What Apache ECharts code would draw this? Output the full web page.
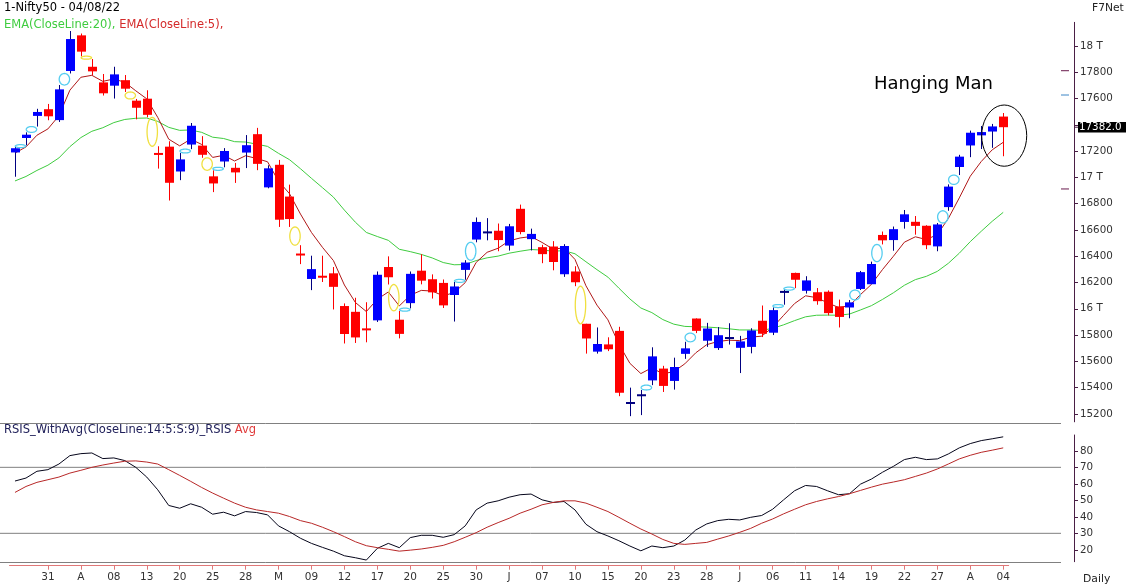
<!DOCTYPE html>
<html><head><meta charset="utf-8">
<script src="https://cdn.jsdelivr.net/npm/echarts@6/dist/echarts.min.js"></script>
<style>html,body{margin:0;padding:0;background:#fff;}#c{width:1126px;height:587px;}</style>
</head><body><div id="c"></div>
<script>
// ---------- data ----------
const dates = [
'2022-03-28','2022-03-29','2022-03-30','2022-03-31',
'2022-04-01','2022-04-04','2022-04-05','2022-04-06','2022-04-07','2022-04-08','2022-04-11','2022-04-12','2022-04-13','2022-04-18','2022-04-19','2022-04-20','2022-04-21','2022-04-22','2022-04-25','2022-04-26','2022-04-27','2022-04-28','2022-04-29',
'2022-05-02','2022-05-04','2022-05-05','2022-05-06','2022-05-09','2022-05-10','2022-05-11','2022-05-12','2022-05-13','2022-05-16','2022-05-17','2022-05-18','2022-05-19','2022-05-20','2022-05-23','2022-05-24','2022-05-25','2022-05-26','2022-05-27','2022-05-30','2022-05-31',
'2022-06-01','2022-06-02','2022-06-03','2022-06-06','2022-06-07','2022-06-08','2022-06-09','2022-06-10','2022-06-13','2022-06-14','2022-06-15','2022-06-16','2022-06-17','2022-06-20','2022-06-21','2022-06-22','2022-06-23','2022-06-24','2022-06-27','2022-06-28','2022-06-29','2022-06-30',
'2022-07-01','2022-07-04','2022-07-05','2022-07-06','2022-07-07','2022-07-08','2022-07-11','2022-07-12','2022-07-13','2022-07-14','2022-07-15','2022-07-18','2022-07-19','2022-07-20','2022-07-21','2022-07-22','2022-07-25','2022-07-26','2022-07-27','2022-07-28','2022-07-29',
'2022-08-01','2022-08-02','2022-08-03','2022-08-04'];

const opens = [17190,17300,17468,17519,17436,17810,18081,17842,17723,17698,17740,17584,17599,17183,17234,17045,17250,17242,17008,17121,17073,17189,17329,
16924,17096,16854,16415,16227,16248,16270,16021,15977,15845,15912,16318,15917,16043,16290,16225,16197,16105,16296,16527,16578,
16594,16481,16761,16530,16469,16474,16263,16284,15886,15674,15729,15832,15272,15334,15455,15545,15451,15657,15926,15757,15701,15775,
15703,15710,15909,15818,16124,16273,16137,16126,16130,16018,16010,16151,16187,16562,16523,16661,16662,16632,16475,16774,17079,
17243,17320,17349,17463];
const closes = [17222,17325,17498,17465,17670,18053,17957,17807,17640,17784,17675,17530,17476,17174,16959,17137,17393,17172,16954,17201,17038,17245,17103,
17069,16678,16683,16411,16302,16240,16167,15808,15782,15842,16259,16240,15809,16266,16214,16125,16026,16170,16352,16661,16585,
16523,16628,16584,16570,16416,16356,16478,16202,15774,15732,15692,15361,15294,15350,15638,15413,15557,15699,15832,15850,15799,15780,
15752,15835,15810,15990,16133,16221,16216,16058,15967,15938,16049,16279,16341,16521,16606,16719,16631,16484,16642,16930,17158,
17340,17345,17388,17382];
const lows = [17005,17244,17387,17435,17422,17791,17921,17779,17623,17600,17650,17442,17457,17067,16824,16979,17215,17149,16888,17077,16958,17071,17055,
16917,16623,16623,16340,16142,16204,15995,15736,15740,15745,15900,16185,15775,16003,16186,16078,16006,15903,16221,16506,16521,
16438,16443,16567,16444,16347,16293,16243,16172,15659,15659,15678,15335,15183,15191,15419,15367,15385,15619,15815,15710,15687,15728,
15511,15661,15785,15800,16031,16157,16116,16031,15950,15858,15928,16143,16187,16490,16442,16610,16564,16454,16438,16746,17018,
17154,17216,17225,17161];
const highs = [17232,17343,17522,17559,17703,18114,18095,17901,17787,17842,17779,17597,17663,17237,17275,17186,17414,17314,17054,17223,17110,17322,17377,
17092,17133,16945,16484,16404,16404,16318,16041,16084,16050,16284,16399,15984,16284,16415,16262,16223,16204,16370,16695,16690,
16649,16646,16793,16610,16487,16515,16492,16324,15886,15858,15783,15863,15400,15382,15707,15566,15628,15749,15927,15893,15861,15890,
15794,15852,16025,16011,16150,16275,16248,16158,16140,16070,16067,16288,16359,16588,16626,16752,16706,16636,16653,16947,17172,
17356,17391,17407,17490];

const ema5 = [17185,17232,17321,17369,17469,17664,17762,17777,17731,17749,17724,17659,17598,17457,17291,17240,17291,17251,17152,17168,17125,17165,17144,
17119,16972,16876,16721,16581,16468,16367,16181,16048,15979,16073,16128,16022,16103,16140,16135,16099,16123,16199,16353,16430,
16461,16517,16539,16550,16505,16455,16463,16376,16175,16028,15916,15731,15585,15507,15551,15505,15522,15581,15665,15727,15751,15761,
15758,15784,15792,15858,15950,16040,16099,16085,16046,16010,16023,16108,16186,16298,16400,16507,16548,16527,16565,16687,16844,
17009,17121,17210,17267];
const ema20 = [16973,17007,17053,17093,17148,17234,17303,17351,17378,17417,17441,17450,17452,17426,17381,17358,17361,17343,17306,17296,17272,17269,17253,
17236,17183,17135,17066,16993,16922,16850,16751,16659,16581,16550,16521,16453,16435,16414,16387,16352,16335,16337,16367,16388,
16401,16423,16438,16451,16447,16439,16442,16419,16358,16298,16241,16157,16075,16006,15971,15918,15883,15866,15863,15861,15856,15848,
15839,15839,15836,15851,15878,15910,15939,15951,15952,15951,15960,15991,16024,16071,16122,16179,16222,16247,16285,16346,16423,
16511,16590,16666,16734];

const rsi = [61.7,63.5,67.6,68.6,72,77.1,78.3,78.7,75.3,75.7,74.1,70,64.1,56.4,46.9,45.2,47.9,45.8,41.6,42.8,40.6,43.2,42.6,
41.2,34.5,31,27,23.9,21.5,19.2,16.4,15.2,13.8,20.9,23.9,21.3,27.4,28.8,28.8,27.6,29.2,34.5,44.2,48.3,
49.7,51.9,53.4,53.8,50.3,48.7,49.3,44.2,35.5,31,28.4,25.5,22.3,19.4,22.3,21.3,22.3,25.9,32,35.7,37.7,38.5,
38.1,39.7,40.8,44.6,50.3,55.8,59,58.4,55.8,53.4,54,59.8,62.9,67,70.6,74.7,76.1,74.7,75.1,78.1,81.8,
84.4,86.2,87.3,88.5];
const rsiAvg = [54.8,58.4,60.9,62.5,64.1,66.5,68.2,70,71.4,72.6,73.7,73.9,73.2,72,68.6,65.1,61.5,57.8,54.4,51.3,48.3,45.8,44.2,
43.2,42.2,40.2,37.7,36.1,33.7,31,28,24.9,22.5,21.3,20.3,19.2,19.8,20.5,21.5,22.7,24.9,27.6,30.4,33.7,
36.5,39.1,42.2,44.6,47.3,48.7,49.7,49.7,48.3,45.8,43.2,39.7,36.1,32.6,29.6,26.3,23.9,23.3,23.9,24.5,26.5,28.4,
30.6,33,36.1,38.7,41.8,44.6,47.3,49.3,50.9,52.3,54,56,58,59.8,61.1,62.5,64.5,66.5,69,72,75.1,
77.3,79.1,80.4,81.8];

const priceTicks = [15200,15400,15600,15800,16000,16200,16400,16600,16800,17000,17200,17400,17600,17800,18000];
const rsiTicks = [20,30,40,50,60,70,80];
const rsiLevels = [70,30];
const sideMarks = [17812,17627,16912];
const sideMarkColors = ['#6a1b4d','#3d86c6','#6a1b4d'];
const lastPrice = 17382.0;
const monthLetter = ['J','F','M','A','M','J','J','A','S','O','N','D'];

// ---------- chart ----------
const FONT = '"DejaVu Sans", Verdana, sans-serif';
const chart = echarts.init(document.getElementById('c'), null, {renderer:'canvas'});
const N = dates.length;
const GL = 9.5, GW = 999.2, AXIS_OFF = 65.3;

const candleData = dates.map((d,i)=>[i, opens[i], closes[i], lows[i], highs[i]]);
const gapData = [];
for (let i=1;i<N;i++){
  if (lows[i] > highs[i-1]) gapData.push([i, highs[i-1], lows[i], 1]);
  else if (highs[i] < lows[i-1]) gapData.push([i, lows[i-1], highs[i], -1]);
}
function ellipsePts(cx, cy, rx, ry){
  const p=[]; for(let k=0;k<40;k++){const a=k/40*Math.PI*2; p.push([cx+rx*Math.cos(a), cy+ry*Math.sin(a)]);} return p;
}
const tickShow = (index)=> index>=3 && index%3===0;

chart.setOption({
  animation:false,
  backgroundColor:'#fff',
  grid:[
    {left:GL, top:22.35, width:GW, height:399.45, containLabel:false, outerBoundsMode:'none'},
    {left:GL, top:435, width:GW, height:126.7, containLabel:false, outerBoundsMode:'none'}
  ],
  xAxis:[
    {type:'category', gridIndex:0, data:dates, boundaryGap:true, show:false},
    {type:'category', gridIndex:1, data:dates, boundaryGap:true, offset:4,
     axisLine:{show:true, lineStyle:{color:'#e07878', width:1}},
     axisTick:{show:true, alignWithLabel:true, interval:tickShow, length:4, lineStyle:{color:'#e07878'}},
     axisLabel:{interval:tickShow, margin:6, color:'#333', fontFamily:FONT, fontSize:10.5,
       formatter:(v,index)=>{
         const m=+dates[index].slice(5,7), d=dates[index].slice(8,10);
         const pm = index>=3 ? +dates[index-3].slice(5,7) : m;
         return m!==pm ? monthLetter[m-1] : d;
       }},
     splitLine:{show:false}}
  ],
  yAxis:[
    {type:'value', gridIndex:0, position:'right', offset:AXIS_OFF, min:15140, max:18180, scale:true,
     axisLine:{show:true, lineStyle:{color:'#4a1f45', width:1}},
     axisTick:{show:true, length:4, customValues:priceTicks, lineStyle:{color:'#4a1f45'}},
     axisLabel:{customValues:priceTicks, margin:6, color:'#333', fontFamily:FONT, fontSize:10.3,
       formatter:(v)=> Math.abs(v-lastPrice)<100 ? '' : ((v%1000===0) ? (v/1000)+' T' : String(v))},
     splitLine:{show:false}},
    {type:'value', gridIndex:1, position:'right', offset:AXIS_OFF, min:12.8, max:89.6,
     axisLine:{show:true, lineStyle:{color:'#4a1f45', width:1}},
     axisTick:{show:true, length:4, customValues:rsiTicks, lineStyle:{color:'#4a1f45'}},
     axisLabel:{customValues:rsiTicks, margin:6, color:'#333', fontFamily:FONT, fontSize:10.3},
     splitLine:{show:false}}
  ],
  series:[
    {name:'EMA20', type:'line', xAxisIndex:0, yAxisIndex:0, data:ema20, symbol:'none', z:2,
     lineStyle:{color:'#3fcc3f', width:1}},
    {name:'EMA5', type:'line', xAxisIndex:0, yAxisIndex:0, data:ema5, symbol:'none', z:2,
     lineStyle:{color:'#b01818', width:1}},
    {name:'Candles', type:'custom', xAxisIndex:0, yAxisIndex:0, data:candleData, z:3,
     encode:{x:0, y:[1,2,3,4]},
     renderItem:(params, api)=>{
       const i=api.value(0), o=api.value(1), c=api.value(2), l=api.value(3), h=api.value(4);
       const xr=api.coord([i,o])[0];
       const x=Math.round(xr)+0.5;
       const yo=api.coord([i,o])[1], yc=api.coord([i,c])[1], yl=api.coord([i,l])[1], yh=api.coord([i,h])[1];
       const up = c>=o;
       const wick = up ? '#000080' : '#ff0000';
       let body = up ? '#0000ff' : '#ff0000';
       let top=Math.min(yo,yc), bot=Math.max(yo,yc);
       if (bot-top < 3){ const m=(top+bot)/2; top=m-1; bot=m+1; body=wick; }
       const bw=9;
       return {type:'group', children:[
         {type:'line', shape:{x1:x, y1:yh, x2:x, y2:yl}, style:{stroke:wick, lineWidth:1}},
         {type:'rect', shape:{x:x-bw/2, y:top, width:bw, height:bot-top}, style:{fill:body}}
       ]};
     }},
    {name:'Gaps', type:'custom', xAxisIndex:0, yAxisIndex:0, data:gapData, z:4,
     encode:{x:0, y:[1,2]},
     renderItem:(params, api)=>{
       const i=api.value(0), a=api.value(1), b=api.value(2), dir=api.value(3);
       const x1=api.coord([i-1,a])[0], x2=api.coord([i,a])[0];
       const ya=api.coord([i,a])[1], yb=api.coord([i,b])[1];
       const cx=(x1+x2)/2, cy=(ya+yb)/2, ry=Math.max(1.5, Math.abs(yb-ya)/2);
       return {type:'polygon', shape:{points:ellipsePts(cx,cy,5.2,ry)},
               style:{fill:'none', stroke: dir>0 ? '#55cdf0' : '#f0e040', lineWidth:1.3}};
     }},
    {name:'Annot', type:'custom', xAxisIndex:0, yAxisIndex:0, data:[[N-1, lastPrice]], z:5,
     encode:{x:0, y:1},
     renderItem:(params, api)=>{
       const i=api.value(0);
       const cs=params.coordSys;
       const axisX = cs.x + cs.width + AXIS_OFF;
       const x=api.coord([i,lastPrice])[0];
       const yh=api.coord([i,highs[i]])[1], yl=api.coord([i,lows[i]])[1];
       const yp=api.coord([i,lastPrice])[1];
       const ch=[
         {type:'polygon', shape:{points:ellipsePts(x+1,(yh+yl)/2+1,22.5,(yl-yh)/2+9)},
          style:{fill:'none', stroke:'#000', lineWidth:1}},
         {type:'line', shape:{x1:axisX, y1:yp, x2:axisX+4, y2:yp}, style:{stroke:'#4a1f45', lineWidth:1}},
         {type:'rect', shape:{x:axisX+4, y:yp-5.3, width:60, height:10.6}, style:{fill:'#000'}},
         {type:'text', x:axisX+5, y:yp+0.3, style:{text:lastPrice.toFixed(1), fill:'#fff', font:'10.3px '+FONT, verticalAlign:'middle'}}
       ];
       sideMarks.forEach((p,k)=>{
         const y=api.coord([i,p])[1];
         ch.push({type:'line', shape:{x1:axisX-13, y1:y, x2:axisX-5, y2:y}, style:{stroke:sideMarkColors[k], lineWidth:1}});
       });
       return {type:'group', children:ch};
     }},
    {name:'Levels', type:'custom', xAxisIndex:1, yAxisIndex:1, data:rsiLevels.map(v=>[0,v]), z:1,
     encode:{x:0, y:1},
     renderItem:(params, api)=>{
       const y=api.coord([0,api.value(1)])[1];
       return {type:'line', shape:{x1:0, y1:y, x2:1061, y2:y}, style:{stroke:'#808080', lineWidth:1}};
     }},
    {name:'RSIS', type:'line', xAxisIndex:1, yAxisIndex:1, data:rsi, symbol:'none', z:3,
     lineStyle:{color:'#05051a', width:1}},
    {name:'Avg', type:'line', xAxisIndex:1, yAxisIndex:1, data:rsiAvg, symbol:'none', z:3,
     lineStyle:{color:'#b82828', width:1}}
  ],
  graphic:[
    {type:'text', x:4, y:8, style:{text:'1-Nifty50 - 04/08/22', fill:'#000', font:'11.5px '+FONT, verticalAlign:'middle'}},
    {type:'text', x:4, y:25, style:{text:'{g|EMA(CloseLine:20),} {r|EMA(CloseLine:5),}', font:'11.5px '+FONT, verticalAlign:'middle',
      rich:{g:{fill:'#3fcc3f', font:'11.5px '+FONT}, r:{fill:'#d42a2a', font:'11.5px '+FONT}}}},
    {type:'text', x:1092, y:8.5, style:{text:'F7Net', fill:'#222', font:'10.7px '+FONT, verticalAlign:'middle'}},
    {type:'text', x:874, y:84, style:{text:'Hanging Man', fill:'#000', font:'18px '+FONT, verticalAlign:'middle'}},
    {type:'text', x:4, y:430.5, style:{text:'{a|RSIS_WithAvg(CloseLine:14:5:S:9)_RSIS} {b|Avg}', font:'11.5px '+FONT, verticalAlign:'middle',
      rich:{a:{fill:'#20205a', font:'11.5px '+FONT}, b:{fill:'#e03a3a', font:'11.5px '+FONT}}}},
    {type:'text', x:1083, y:579, style:{text:'Daily', fill:'#222', font:'10.8px '+FONT, verticalAlign:'middle'}},
    {type:'line', shape:{x1:0, y1:423.5, x2:1061, y2:423.5}, style:{stroke:'#808080', lineWidth:1}},
    {type:'line', shape:{x1:0, y1:562.5, x2:1061, y2:562.5}, style:{stroke:'#808080', lineWidth:1}}
  ]
});
</script></body></html>
